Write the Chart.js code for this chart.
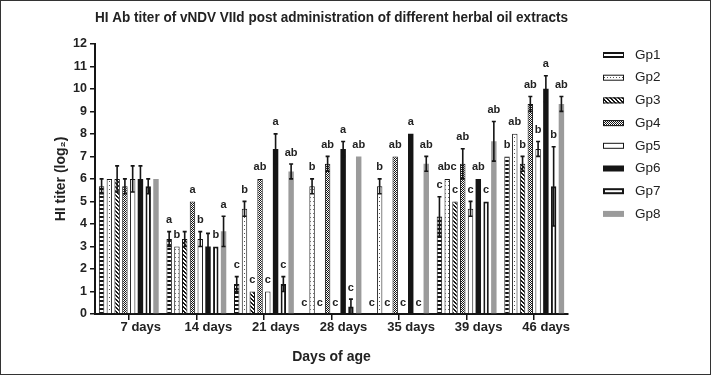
<!DOCTYPE html>
<html>
<head>
<meta charset="utf-8">
<script src="https://cdn.jsdelivr.net/npm/chart.js"></script>
<style>
  html, body { margin: 0; padding: 0; background: #fff; }
  canvas { display: block; }
</style>
</head>
<body>
<canvas id="hiChart" width="711" height="375"></canvas>
<script>
// HI titer (log2) per group
const days = ['7 days', '14 days', '21 days', '28 days', '35 days', '39 days', '46 days'];
const groups = ['Gp1', 'Gp2', 'Gp3', 'Gp4', 'Gp5', 'Gp6', 'Gp7', 'Gp8'];

const gp1 = [5.67, 3.33, 1.33, 0, 0, 4.33, 7];
const gp2 = [6, 3, 4.67, 5.67, 5.67, 6, 8];
const gp3 = [6, 3.33, 1, 0, 0, 5, 6.67];
const gp4 = [5.67, 5, 6, 6.67, 7, 6.67, 9.33];
const gp5 = [6, 3.33, 1, 0, 0, 4.67, 7.33];
const gp6 = [6, 3, 7.33, 7.33, 8, 6, 10];
const gp7 = [5.67, 3, 1.33, 0.33, 0, 5, 5.67];
const gp8 = [6, 3.67, 6.33, 7, 6.67, 7.67, 9.33];

// standard errors
const gp1Err = [0.33, 0.33, 0.33, 0, 0, 0.88, 0];
const gp2Err = [0, 0, 0.33, 0.33, 0.33, 0, 0];
const gp3Err = [0.58, 0.33, 0, 0, 0, 0, 0.33];
const gp4Err = [0.33, 0, 0, 0.33, 0, 0.67, 0.33];
const gp5Err = [0.58, 0.33, 0, 0, 0, 0.33, 0.33];
const gp6Err = [0.58, 0.58, 0.67, 0.33, 0, 0, 0.58];
const gp7Err = [0.33, 0, 0.33, 0.33, 0, 0, 1.76];
const gp8Err = [0, 0.67, 0.33, 0, 0.33, 0.88, 0.33];

// significance letters
const gp1Sig = ['', 'a', 'c', 'c', 'c', 'c', 'b'];
const gp2Sig = ['', 'b', 'b', 'b', 'b', 'abc', 'ab'];
const gp3Sig = ['', '', 'c', 'c', 'c', 'c', 'b'];
const gp4Sig = ['', 'a', 'ab', 'ab', 'ab', 'ab', 'ab'];
const gp5Sig = ['', 'b', 'c', 'c', 'c', 'c', 'b'];
const gp6Sig = ['', '', 'a', 'a', 'a', 'ab', 'a'];
const gp7Sig = ['', 'b', 'c', 'c', 'c', 'c', 'b'];
const gp8Sig = ['', 'a', 'ab', 'ab', 'ab', 'ab', 'ab'];

const values = [gp1, gp2, gp3, gp4, gp5, gp6, gp7, gp8];
const errors = [gp1Err, gp2Err, gp3Err, gp4Err, gp5Err, gp6Err, gp7Err, gp8Err];
const letters = [gp1Sig, gp2Sig, gp3Sig, gp4Sig, gp5Sig, gp6Sig, gp7Sig, gp8Sig];

const FONT = "'Liberation Sans', Arial, Helvetica, sans-serif";
const INK = '#151515';

const canvas = document.getElementById('hiChart');
const mainCtx = canvas.getContext('2d');

function makePattern(w, h, paint) {
  const c = document.createElement('canvas');
  c.width = w; c.height = h;
  const g = c.getContext('2d');
  g.fillStyle = '#fff';
  g.fillRect(0, 0, w, h);
  g.fillStyle = INK;
  paint(g);
  return mainCtx.createPattern(c, 'repeat');
}

const ladder = makePattern(1, 4, g => g.fillRect(0, 0, 1, 2));
const dots = makePattern(3, 4, g => { g.fillStyle = '#555'; g.fillRect(1, 1, 1, 1); });
const diag = makePattern(4, 4, g => {
  for (let k = 0; k < 4; k++) { g.fillRect(k, k, 1, 1); g.fillRect((k + 1) % 4, k, 1, 1); }
});
const checker = makePattern(2, 2, g => { g.fillRect(0, 0, 1, 1); g.fillRect(1, 1, 1, 1); });

const fills = [ladder, dots, diag, checker, '#fff', INK, '#fff', '#9b9b9b'];
const borders = [1, 1, 1, 1, 1, 0, 2, 0];

const datasets = groups.map((name, i) => ({
  label: name,
  data: values[i],
  backgroundColor: fills[i],
  borderColor: INK,
  borderWidth: borders[i],
  barPercentage: 0.7,
  categoryPercentage: 0.92
}));

// error bars, letters, legend and frame
const annotate = {
  id: 'annotate',
  afterDatasetsDraw(chart) {
    const { ctx } = chart;
    const y = chart.scales.y;
    ctx.save();
    ctx.font = 'bold 11px ' + FONT;
    ctx.textAlign = 'center';
    ctx.textBaseline = 'bottom';
    chart.data.datasets.forEach((ds, i) => {
      chart.getDatasetMeta(i).data.forEach((bar, j) => {
        const v = ds.data[j];
        const e = errors[i][j];
        let top = y.getPixelForValue(v);
        if (e > 0) {
          const y1 = y.getPixelForValue(v + e);
          const y2 = y.getPixelForValue(Math.max(v - e, 0));
          ctx.strokeStyle = INK;
          ctx.lineWidth = 1.6;
          ctx.beginPath();
          ctx.moveTo(bar.x, y2); ctx.lineTo(bar.x, y1);
          ctx.moveTo(bar.x - 2, y1); ctx.lineTo(bar.x + 2, y1);
          ctx.moveTo(bar.x - 2, y2); ctx.lineTo(bar.x + 2, y2);
          ctx.stroke();
          top = y1;
        }
        const l = letters[i][j];
        if (l) {
          ctx.fillStyle = '#222';
          ctx.fillText(l, bar.x, top - 6);
        }
      });
    });
    ctx.restore();
  },
  afterDraw(chart) {
    const { ctx } = chart;
    ctx.save();
    // legend
    ctx.font = '13.5px ' + FONT;
    ctx.textAlign = 'left';
    ctx.textBaseline = 'middle';
    chart.data.datasets.forEach((ds, i) => {
      const cy = 55 + i * 22.7;
      ctx.fillStyle = ds.backgroundColor;
      ctx.fillRect(603, cy - 3, 21, 6);
      if (ds.borderWidth) {
        ctx.strokeStyle = INK;
        ctx.lineWidth = ds.borderWidth;
        const h = ds.borderWidth / 2;
        ctx.strokeRect(603 + h, cy - 3 + h, 21 - ds.borderWidth, 6 - ds.borderWidth);
      }
      ctx.fillStyle = '#222';
      ctx.fillText(ds.label, 635, cy);
    });
    // outer frame
    ctx.strokeStyle = '#333';
    ctx.lineWidth = 1;
    ctx.strokeRect(0.5, 0.5, chart.width - 1, chart.height - 1);
    ctx.restore();
  }
};

new Chart(canvas, {
  type: 'bar',
  data: { labels: days, datasets: datasets },
  plugins: [annotate],
  options: {
    responsive: false,
    animation: false,
    events: [],
    layout: { padding: { left: 0, right: 143, top: 0, bottom: 0 } },
    plugins: {
      legend: { display: false },
      tooltip: { enabled: false },
      title: {
        display: true,
        fullSize: false,
        text: 'HI Ab titer of vNDV VIId post administration of different herbal oil extracts',
        color: '#222',
        font: { family: FONT, size: 14, weight: 'bold' },
        padding: { top: 10, bottom: 17 }
      }
    },
    scales: {
      x: {
        afterFit: s => { s.height = 61; },
        grid: { offset: false, drawOnChartArea: false, color: INK, tickLength: 6, lineWidth: 1.5, tickWidth: 1.5 },
        border: { color: INK, width: 2 },
        ticks: { color: '#222', padding: 0, labelOffset: 12, font: { family: FONT, size: 13, weight: 'bold' } },
        title: {
          display: true,
          text: 'Days of age',
          color: '#222',
          font: { family: FONT, size: 14, weight: 'bold' },
          padding: { top: 0, bottom: 9 }
        }
      },
      y: {
        min: 0,
        max: 12,
        afterFit: s => { s.width = 95; },
        grid: { drawOnChartArea: false, color: INK, tickLength: 5, lineWidth: 1.5, tickWidth: 1.5 },
        border: { color: INK, width: 2 },
        ticks: { stepSize: 1, color: '#222', padding: 3, font: { family: FONT, size: 12.5, weight: 'bold' } },
        title: {
          display: true,
          text: 'HI titer (log₂)',
          color: '#222',
          font: { family: FONT, size: 14, weight: 'bold' },
          padding: { top: 53, bottom: 0 }
        }
      }
    }
  }
});
</script>
</body>
</html>
